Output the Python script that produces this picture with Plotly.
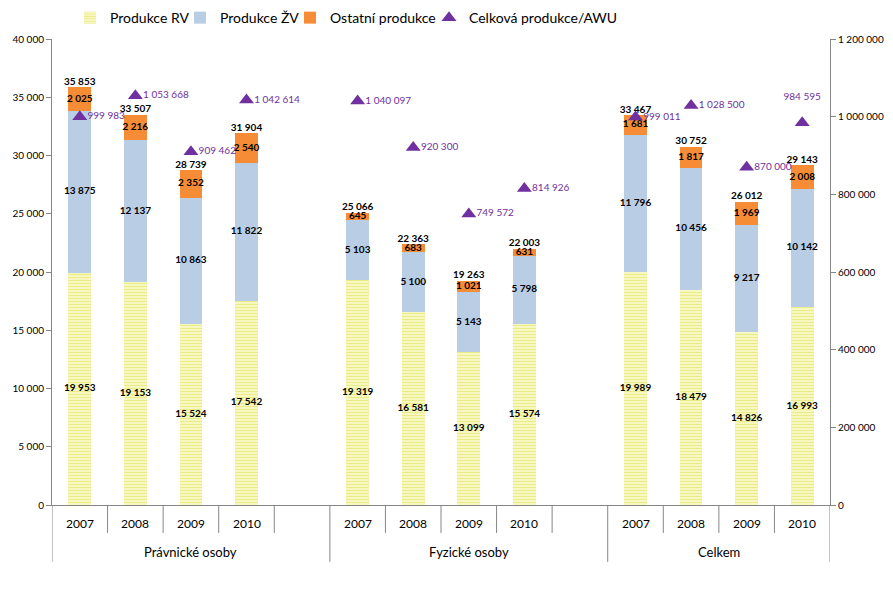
import plotly.graph_objects as go

groups = ["Právnické osoby", "Fyzické osoby", "Celkem"]
years = ["2007", "2008", "2009", "2010"]

rv = [19953, 19153, 15524, 17542,
      19319, 16581, 13099, 15574,
      19989, 18479, 14826, 16993]
zv = [13875, 12137, 10863, 11822,
      5103, 5100, 5143, 5798,
      11796, 10456, 9217, 10142]
ost = [2025, 2216, 2352, 2540,
       645, 683, 1021, 631,
       1681, 1817, 1969, 2008]
totals = [35853, 33507, 28739, 31904,
          25066, 22363, 19263, 22003,
          33467, 30752, 26012, 29143]
awu = [999983, 1053668, 909462, 1042614,
       1040097, 920300, 749572, 814926,
       999011, 1028500, 870000, 984595]

SLOTS_PER_GROUP = 5
x = [g * SLOTS_PER_GROUP + i for g in range(len(groups)) for i in range(len(years))]
n_slots = SLOTS_PER_GROUP * (len(groups) - 1) + len(years)

FONT = "Lato, Carlito, Calibri, sans-serif"
fmt = lambda v: f"{v:,}".replace(",", "\u00a0")
NB = "\u00a0"

fig = go.Figure()
W = 0.41
fig.add_trace(go.Bar(x=x, y=rv, name="Produkce RV", width=W, legend="legend",
                     marker=dict(color="#fafad2", line=dict(width=0),
                                 pattern=dict(shape="-", fgcolor="#dcdc3c", bgcolor="#fafad2",
                                              size=3, solidity=0.5))))
fig.add_trace(go.Bar(x=x, y=zv, name="Produkce ŽV", width=W, legend="legend2",
                     marker=dict(color="#b9cde5", line=dict(width=0))))
fig.add_trace(go.Bar(x=x, y=ost, name="Ostatní produkce", width=W, legend="legend3",
                     marker=dict(color="#f68c36", line=dict(width=0))))
fig.add_trace(go.Scatter(x=x, y=awu, name="Celková produkce/AWU", yaxis="y2", mode="markers",
                         legend="legend4",
                         marker=dict(symbol="triangle-up", size=13, color="#7030a0")))

# segment labels
lab_font = dict(family=FONT, size=10, color="#000000")
mid_rv = [r / 2 for r in rv]
mid_zv = [r + z / 2 for r, z in zip(rv, zv)]
mid_ost = [r + z + o / 2 for r, z, o in zip(rv, zv, ost)]
for mids, vals in [(mid_rv, rv), (mid_zv, zv), (mid_ost, ost)]:
    fig.add_trace(go.Scatter(x=x, y=mids, mode="text", showlegend=False, hoverinfo="skip",
                             text=["<b>" + fmt(v) + "</b>" for v in vals],
                             textposition="middle center", textfont=lab_font))
fig.add_trace(go.Scatter(x=x, y=totals, mode="text", showlegend=False, hoverinfo="skip",
                         text=["<b>" + fmt(v) + "</b>" for v in totals],
                         textposition="top center", textfont=lab_font))

# AWU labels: all to the right except the last one, which sits above its marker
purple_font = dict(family=FONT, size=10, color="#7030a0")
fig.add_trace(go.Scatter(x=x[:-1], y=awu[:-1], yaxis="y2", mode="text", showlegend=False,
                         hoverinfo="skip", text=[NB * 3 + fmt(v) for v in awu[:-1]],
                         textposition="middle right", textfont=purple_font))
fig.add_trace(go.Scatter(x=x[-1:], y=awu[-1:], yaxis="y2", mode="markers+text", showlegend=False,
                         hoverinfo="skip", text=[fmt(v) for v in awu[-1:]],
                         marker=dict(size=30, opacity=0),
                         textposition="top center", textfont=purple_font))

# category axis labels and separators
line_col = "#868686"
shapes = []
annotations = []
for k in range(n_slots + 1):
    xb = k - 0.5
    is_div = (k % SLOTS_PER_GROUP == 0) or k == n_slots
    shapes.append(dict(type="line", xref="x", yref="paper", x0=xb, x1=xb,
                       y0=0, y1=-0.122 if is_div else -0.06,
                       line=dict(color=line_col, width=1)))
for xi, yr in zip(x, years * len(groups)):
    annotations.append(dict(x=xi, y=-0.039, xref="x", yref="paper", text=yr, showarrow=False,
                            font=dict(family=FONT, size=12, color="#000000"), yanchor="middle"))
for g, name in enumerate(groups):
    start = g * SLOTS_PER_GROUP
    end = min(start + SLOTS_PER_GROUP, n_slots)
    annotations.append(dict(x=(start + end - 1) / 2, y=-0.101, xref="x", yref="paper", text=name,
                            showarrow=False, font=dict(family=FONT, size=13, color="#000000"),
                            yanchor="middle"))

legend_style = dict(orientation="h", xanchor="left", y=1.045, yanchor="middle",
                    font=dict(family=FONT, size=14, color="#000000"), bgcolor="rgba(0,0,0,0)")

fig.update_layout(
    width=893, height=591,
    margin=dict(l=44, r=71, t=31, b=94, autoexpand=False),
    barmode="stack",
    bargap=0,
    separators=", ",
    plot_bgcolor="white", paper_bgcolor="white",
    font=dict(family=FONT, size=10, color="#000000"),
    xaxis=dict(range=[-0.5, n_slots - 0.5], showticklabels=False, ticks="", showgrid=False,
               zeroline=False, showline=True, linecolor=line_col, linewidth=1),
    yaxis=dict(range=[0, 40000], dtick=5000, tickformat=",d", showgrid=False, zeroline=False,
               showline=True, linecolor=line_col, ticks="outside", ticklen=5, tickcolor=line_col,
               tickfont=dict(family=FONT, size=10, color="#000000")),
    yaxis2=dict(range=[0, 1200000], dtick=200000, tickformat=",d", overlaying="y", side="right",
                showgrid=False, zeroline=False, showline=True, linecolor=line_col, ticks="outside",
                ticklen=5, tickcolor=line_col, tickfont=dict(family=FONT, size=10, color="#000000")),
    legend=dict(x=0.0231, **legend_style),
    legend2=dict(x=0.1645, **legend_style),
    legend3=dict(x=0.3059, **legend_style),
    legend4=dict(x=0.4846, **legend_style),
    shapes=shapes,
    annotations=annotations,
)

fig.write_html("out.html")
